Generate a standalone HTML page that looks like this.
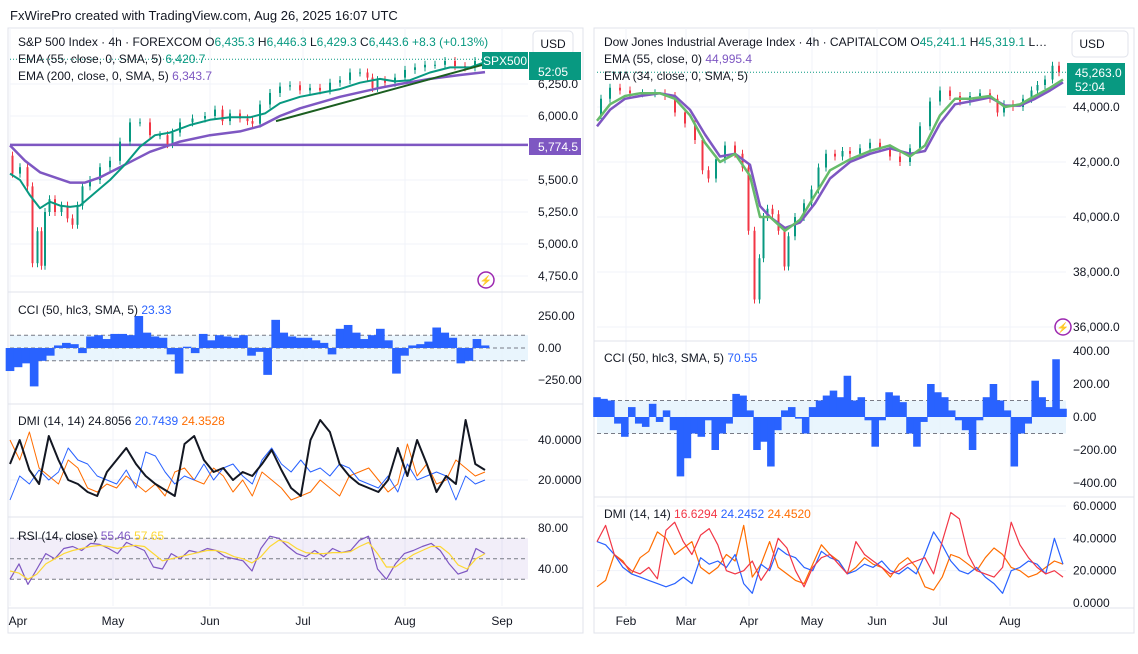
<!DOCTYPE html>
<html><head><meta charset="utf-8"><style>
body{margin:0;background:#fff;width:1138px;height:649px;overflow:hidden;font-family:"Liberation Sans",sans-serif}
svg text{font-family:"Liberation Sans",sans-serif}
</style></head><body>
<svg id="c" width="1138" height="649" viewBox="0 0 1138 649" xmlns="http://www.w3.org/2000/svg">
<text x="10" y="20" font-size="13" fill="#131722">FxWirePro created with TradingView.com, Aug 26, 2025 16:07 UTC</text>
<rect x="8" y="28" width="575" height="605" fill="none" stroke="#e0e3eb"/>
<rect x="594" y="28" width="540" height="605" fill="none" stroke="#e0e3eb"/>
<g id="g"></g>
</svg>
<script>
// ---- S&P 500 data ----
const spxX=[10,15,25,30,35,40,43,47,52,58,65,70,75,80,85,95,105,115,125,135,145,155,165,170,175,185,200,210,220,225,235,245,250,255,265,275,285,295,305,315,325,335,345,355,365,370,375,380,390,400,410,420,430,440,450,460,470,480,485];
const spxClose=[5690,5550,5600,5450,4850,5100,4830,5250,5350,5250,5300,5200,5150,5300,5450,5500,5600,5650,5800,5950,5950,5850,5850,5780,5870,5950,5980,6000,6050,5960,6020,5980,5960,5940,6090,6180,6230,6240,6200,6220,6200,6260,6280,6340,6340,6300,6220,6280,6260,6300,6360,6380,6400,6400,6430,6390,6380,6430,6443];
const spxEma55X=[10,20,30,40,50,60,70,80,95,110,125,140,155,170,190,210,230,250,265,280,300,320,340,360,380,395,410,430,450,470,485];
const spxEma55=[5550,5500,5380,5280,5330,5300,5290,5300,5400,5500,5620,5760,5850,5870,5930,5970,5990,5990,6020,6100,6150,6180,6210,6260,6290,6270,6280,6340,6380,6380,6420];
const spxEma200X=[10,25,40,55,70,85,100,120,150,180,210,240,260,280,300,340,380,400,430,460,485];
const spxEma200=[5770,5650,5560,5520,5480,5480,5520,5600,5720,5800,5850,5880,5920,6000,6060,6150,6220,6250,6290,6320,6343];
const spxTicks=[6250,6000,5500,5250,5000,4750];
const spxTickLabels=["6,250.0","6,000.0","5,500.0","5,250.0","5,000.0","4,750.0"];
const spxCci=[-180,-150,-120,-300,-100,-60,20,40,30,-40,90,100,70,110,110,100,250,120,90,80,-50,-200,10,-40,110,60,100,90,80,100,-60,-30,-210,220,120,90,80,80,60,40,-50,150,180,120,70,100,150,60,-200,-60,20,30,50,160,120,80,-120,-100,70,20];
const spxAdx=[28,40,25,18,42,30,20,18,14,12,24,30,36,28,22,18,15,12,38,42,30,24,26,20,24,22,28,35,25,16,12,40,50,44,28,22,18,16,14,20,36,22,40,28,14,22,18,50,28,25];
const spxDiPlus=[10,22,18,25,20,24,36,30,28,22,20,18,25,16,34,32,24,18,22,20,28,20,26,28,22,18,30,36,28,24,30,24,26,22,28,26,20,18,16,22,14,28,20,22,24,22,10,22,18,20];
const spxDiMinus=[40,30,44,26,22,18,30,26,16,14,18,16,22,18,14,18,12,24,26,20,18,26,22,14,20,12,24,20,16,10,12,14,20,16,12,22,24,26,20,14,18,38,22,28,18,20,30,26,22,24];
const spxRsi=[30,45,25,40,55,50,60,62,58,65,64,60,55,66,62,58,42,40,55,50,58,56,60,58,52,50,48,38,60,72,70,62,55,52,58,52,60,56,58,68,72,40,30,45,55,58,62,65,58,45,35,38,60,55];
const spxRsiMa=[38,36,30,35,45,50,55,58,60,62,63,62,60,62,63,62,55,48,50,52,54,56,58,58,56,52,50,46,52,62,68,66,60,56,55,55,56,56,57,62,66,55,42,42,48,54,58,62,62,55,44,40,50,55];
const spxMonths=["Apr","May","Jun","Jul","Aug","Sep"];
const spxMonthX=[10,113,210,303,405,502];
// ---- Dow data ----
const djX=[597,605,615,625,635,650,660,670,680,690,700,705,712,720,730,740,745,752,757,762,765,770,775,782,787,790,800,808,815,822,830,840,845,855,865,875,885,895,905,915,925,935,945,955,965,975,985,995,1000,1008,1018,1028,1035,1040,1050,1055,1063];
const djClose=[43700,44300,44700,44600,44500,44500,44500,44400,43800,43400,42800,41700,41400,42100,42600,42300,41800,39500,37000,38500,40000,40300,40100,39500,38200,39300,40000,40500,41000,41800,42300,42200,42400,42300,42500,42700,42500,42200,42000,42500,43300,44200,44600,44400,44200,44400,44500,44300,43800,44100,44000,44300,44600,44800,45000,45500,45263];
const djEmaX=[597,610,625,640,660,675,690,705,720,735,750,760,770,785,800,815,830,850,870,890,910,925,940,955,970,990,1005,1020,1035,1050,1063];
const djEma34=[43500,44100,44400,44500,44500,44300,43700,42700,42000,42300,41500,40000,40000,39500,39900,40800,41700,42100,42400,42600,42200,42600,43700,44300,44300,44400,44000,44100,44400,44700,45000];
const djEma55=[43300,43900,44300,44400,44500,44400,43900,43000,42200,42300,41900,40400,40000,39600,39800,40500,41400,42000,42300,42500,42300,42400,43400,44100,44200,44350,44050,44050,44300,44600,44900];
const djTicks=[44000,42000,40000,38000,36000];
const djTickLabels=["44,000.0","42,000.0","40,000.0","38,000.0","36,000.0"];
const djCci=[120,110,100,-40,-120,60,-40,-60,80,-30,40,-80,-360,-250,-100,-120,-20,-200,-100,-40,140,130,40,-200,-150,-300,-80,40,60,-10,-100,60,100,130,160,120,250,100,120,-20,-180,-20,150,130,90,-100,-180,-30,200,150,120,40,-20,-80,-200,-20,120,200,100,40,-300,-100,-40,220,120,60,350,50];
const djAdx=[38,48,30,25,20,18,22,15,45,50,38,30,42,46,36,20,18,20,26,14,22,40,34,20,10,22,28,30,24,18,38,30,26,22,18,20,24,26,28,18,38,56,52,30,20,18,16,22,50,36,28,22,18,20,16];
const djDiPlus=[38,36,30,22,18,16,14,12,10,12,16,12,28,24,26,22,30,12,6,24,20,34,30,28,22,20,32,28,26,18,20,24,22,26,20,18,22,18,30,44,36,26,20,18,22,16,12,6,20,22,26,24,18,40,24];
const djDiMinus=[10,14,30,26,18,28,32,44,40,30,34,38,22,18,22,30,26,48,16,24,38,22,18,14,12,24,36,30,26,18,22,28,24,22,16,24,28,22,10,8,16,30,28,24,20,28,34,30,22,20,16,18,22,26,24];
const djMonths=["Feb","Mar","Apr","May","Jun","Jul","Aug"];
const djMonthX=[626,686,749,812,877,940,1010];

const NS="http://www.w3.org/2000/svg";
const G=document.getElementById('g');
function mk(tag,attrs,parent){const e=document.createElementNS(NS,tag);for(const k in attrs)e.setAttribute(k,attrs[k]);(parent||G).appendChild(e);return e;}
function lin(d0,d1,r0,r1){return v=>r0+(v-d0)*(r1-r0)/(d1-d0);}
function idxX(n,x0,x1){return i=>x0+i*(x1-x0)/(n-1);}
function txt(x,y,s,col,size,anchor,name){const t=mk('text',{x:x,y:y,'font-size':size||12,fill:col||'#131722','text-anchor':anchor||'start'});t.textContent=s;


return t;}
function legend(x,y,parts,name){const t=mk('text',{x:x,y:y,'font-size':12,fill:'#131722','xml:space':'preserve'});


parts.forEach(p=>{const s=mk('tspan',{fill:p[1]},t);s.textContent=p[0];});return t;}
function hline(x0,x1,y,col,dash,w,name){const l=mk('line',{x1:x0,x2:x1,y1:y,y2:y,stroke:col,'stroke-width':w||1});if(dash)l.setAttribute('stroke-dasharray',dash);


return l;}
function poly(xs,vals,xf,yf,col,w,name){const p=mk('polyline',{points:vals.map((v,i)=>xf(xs?xs[i]:i).toFixed(1)+','+yf(v).toFixed(1)).join(' '),fill:'none',stroke:col,'stroke-width':w,'stroke-linejoin':'round'});


return p;}
function candles(xs,vals,yf,name){for(let i=1;i<vals.length;i++){const a=yf(vals[i-1]),b=yf(vals[i]);const up=vals[i]>=vals[i-1];const col=up?'#089981':'#f23645';const x=(xs[i-1]+xs[i])/2;
const w=mk('line',{x1:x,x2:x,y1:Math.min(a,b)-4,y2:Math.max(a,b)+4,stroke:col,'stroke-width':1});


const r=mk('rect',{x:x-1,y:Math.min(a,b),width:2,height:Math.max(1,Math.abs(a-b)),fill:col});

}}
function bars(vals,xf,yf,col,name){const bw=(xf(1)-xf(0))+0.6;vals.forEach((v,i)=>{const y0=yf(0),y1=yf(v);const r=mk('rect',{x:xf(i)-bw/2,y:Math.min(y0,y1),width:bw,height:Math.abs(y1-y0),fill:col});

});}

// ===== LEFT: S&P 500 =====
const LX0=10,LX1=528;
const ys=lin(6000,5750,116,148);
spxTicks.forEach((t,i)=>{hline(LX0,LX1,ys(t),'#f0f3fa',null,1,'spx-gridline');txt(538,ys(t)+4,spxTickLabels[i],'#131722',12,'start','spx-price-tick');});
spxMonthX.forEach(x=>{const l=mk('line',{x1:x,x2:x,y1:28,y2:606,stroke:'#f0f3fa'});});
hline(LX0,LX1,ys(5774.5),'#7e57c2',null,2.5,'support-line-5774');
candles(spxX,spxClose,ys,'spx');
poly(spxEma200X,spxEma200,x=>x,ys,'#7e57c2',2.5,'spx-ema200-line');
poly(spxEma55X,spxEma55,x=>x,ys,'#089981',2,'spx-ema55-line');
const tl=mk('line',{x1:276,y1:ys(5960),x2:485,y2:ys(6405),stroke:'#1b5e20','stroke-width':2});
hline(LX0,482,ys(6443),'#089981','1 2',1,'spx-last-price-line');
legend(18,46,[['S&P 500 Index · 4h · FOREXCOM  O','#131722'],['6,435.3','#089981'],['  H','#131722'],['6,446.3','#089981'],['  L','#131722'],['6,429.3','#089981'],['  C','#131722'],['6,443.6  +8.3 (+0.13%)','#089981']],'spx-legend-title');
legend(18,63,[['EMA (55, close, 0, SMA, 5)  ','#131722'],['6,420.7','#089981']],'spx-ema55-legend');
legend(18,80,[['EMA (200, close, 0, SMA, 5)  ','#131722'],['6,343.7','#7e57c2']],'spx-ema200-legend');
let r=mk('rect',{x:533,y:31,width:40,height:24,rx:4,fill:'#fff',stroke:'#e0e3eb'});
txt(553,48,'USD','#131722',12,'middle','spx-currency-label');
r=mk('rect',{x:482,y:52,width:46,height:17,fill:'#089981'});
txt(505,65,'SPX500','#fff',12,'middle','spx500-tag-text');
r=mk('rect',{x:529,y:52,width:52,height:28,fill:'#089981'});
txt(538,76,'52:05','#fff',12,'start','spx-countdown');
r=mk('rect',{x:529,y:138,width:52,height:17,fill:'#7e57c2'});
txt(538,151,'5,774.5','#fff',12,'start','support-price-text');
let c=mk('circle',{cx:486,cy:280,r:8,fill:'none',stroke:'#9c27b0','stroke-width':1.5});
txt(486,284,'⚡','#9c27b0',10,'middle','spx-alert-glyph');
hline(8,583,292,'#e0e3eb',null,1,'pane-divider');
// CCI left
const yc=lin(0,250,348,316);const xcL=idxX(spxCci.length,LX0,485);
r=mk('rect',{x:LX0,y:yc(100),width:LX1-LX0,height:yc(-100)-yc(100),fill:'#e3f2fd',opacity:0.8});
hline(LX0,LX1,yc(100),'#787b86','4 3',1,'spx-cci-upper');hline(LX0,LX1,yc(0),'#787b86','4 3',1,'spx-cci-mid');hline(LX0,LX1,yc(-100),'#787b86','4 3',1,'spx-cci-lower');
bars(spxCci,xcL,yc,'#2962ff','spx-cci-bar');
[[250,'250.00'],[0,'0.00'],[-250,'−250.00']].forEach(t=>txt(538,yc(t[0])+4,t[1],'#131722',12,'start','spx-cci-tick'));
legend(18,314,[['CCI (50, hlc3, SMA, 5)  ','#131722'],['23.33','#2962ff']],'spx-cci-legend');
hline(8,583,404,'#e0e3eb',null,1,'pane-divider');
// DMI left
const yd=lin(20,40,480,440);const xdL=idxX(spxAdx.length,LX0,485);
hline(LX0,LX1,yd(40),'#f0f3fa',null,1,'spx-dmi-grid');hline(LX0,LX1,yd(20),'#f0f3fa',null,1,'spx-dmi-grid');
poly(null,spxDiMinus,xdL,yd,'#ff6d00',1,'spx-di-minus');
poly(null,spxDiPlus,xdL,yd,'#2962ff',1,'spx-di-plus');
poly(null,spxAdx,xdL,yd,'#131722',2,'spx-adx');
txt(538,yd(40)+4,'40.0000','#131722',12,'start','spx-dmi-tick');txt(538,yd(20)+4,'20.0000','#131722',12,'start','spx-dmi-tick');
legend(18,425,[['DMI (14, 14)  24.8056  ','#131722'],['20.7439  ','#2962ff'],['24.3528','#ff6d00']],'spx-dmi-legend');
hline(8,583,517,'#e0e3eb',null,1,'pane-divider');
// RSI left
const yr=lin(40,80,569,528);const xrL=idxX(spxRsi.length,LX0,485);
r=mk('rect',{x:LX0,y:yr(70),width:LX1-LX0,height:yr(30)-yr(70),fill:'#7e57c2',opacity:0.1});
hline(LX0,LX1,yr(70),'#787b86','4 3',1,'spx-rsi-70');hline(LX0,LX1,yr(50),'#787b86','4 3',1,'spx-rsi-50');hline(LX0,LX1,yr(30),'#787b86','4 3',1,'spx-rsi-30');
poly(null,spxRsi,xrL,yr,'#7e57c2',1.2,'spx-rsi-line');
poly(null,spxRsiMa,xrL,yr,'#fdd835',1.2,'spx-rsi-ma');
txt(538,yr(80)+4,'80.00','#131722',12,'start','spx-rsi-tick');txt(538,yr(40)+4,'40.00','#131722',12,'start','spx-rsi-tick');
legend(18,540,[['RSI (14, close)  ','#131722'],['55.46  ','#7e57c2'],['57.65','#fdd835']],'spx-rsi-legend');
hline(8,583,608,'#e0e3eb',null,1,'time-axis-divider');
spxMonths.forEach((m,i)=>txt(spxMonthX[i]+(i==0?8:0),625,m,'#131722',12,'middle','spx-month-label'));

// ===== RIGHT: Dow Jones =====
const RX0=597,RX1=1066;
const yj=lin(44000,42000,107,162);
djTicks.forEach((t,i)=>{hline(RX0,RX1,yj(t),'#f0f3fa',null,1,'dj-gridline');txt(1073,yj(t)+4,djTickLabels[i],'#131722',12,'start','dj-price-tick');});
djMonthX.forEach(x=>{const l=mk('line',{x1:x,x2:x,y1:28,y2:606,stroke:'#f0f3fa'});});
candles(djX,djClose,yj,'dj');
poly(djEmaX,djEma55,x=>x,yj,'#7e57c2',2.5,'dj-ema55-line');
poly(djEmaX,djEma34,x=>x,yj,'#66bb6a',2.5,'dj-ema34-line');
hline(RX0,RX1,yj(45263),'#089981','1 2',1,'dj-last-price-line');
legend(604,46,[['Dow Jones Industrial Average Index · 4h · CAPITALCOM  O','#131722'],['45,241.1','#089981'],['  H','#131722'],['45,319.1','#089981'],['  L…','#131722']],'dj-legend-title');
legend(604,63,[['EMA (55, close, 0)  ','#131722'],['44,995.4','#7e57c2']],'dj-ema55-legend');
legend(604,80,[['EMA (34, close, 0, SMA, 5)','#131722']],'dj-ema34-legend');
r=mk('rect',{x:1072,y:31,width:56,height:26,rx:4,fill:'#fff',stroke:'#e0e3eb'});
txt(1092,48,'USD','#131722',12,'middle','dj-currency-label');
r=mk('rect',{x:1067,y:63,width:58,height:32,fill:'#089981'});
txt(1075,77,'45,263.0','#fff',12,'start','dj-price-text');txt(1075,91,'52:04','#fff',12,'start','dj-countdown');
c=mk('circle',{cx:1063,cy:327,r:8,fill:'none',stroke:'#9c27b0','stroke-width':1.5});
txt(1063,331,'⚡','#9c27b0',10,'middle','dj-alert-glyph');
hline(594,1134,341,'#e0e3eb',null,1,'pane-divider');
// CCI right
const ycr=lin(0,200,417,384);const xcR=idxX(djCci.length,RX0,1063);
r=mk('rect',{x:RX0,y:ycr(100),width:RX1-RX0,height:ycr(-100)-ycr(100),fill:'#e3f2fd',opacity:0.8});
hline(RX0,RX1,ycr(100),'#787b86','4 3',1,'dj-cci-upper');hline(RX0,RX1,ycr(-100),'#787b86','4 3',1,'dj-cci-lower');
bars(djCci,xcR,ycr,'#2962ff','dj-cci-bar');
[[400,'400.00'],[200,'200.00'],[0,'0.00'],[-200,'−200.00'],[-400,'−400.00']].forEach(t=>txt(1073,ycr(t[0])+4,t[1],'#131722',12,'start','dj-cci-tick'));
legend(604,362,[['CCI (50, hlc3, SMA, 5)  ','#131722'],['70.55','#2962ff']],'dj-cci-legend');
hline(594,1134,497,'#e0e3eb',null,1,'pane-divider');
// DMI right
const ydr=lin(0,60,603,506);const xdR=idxX(djAdx.length,RX0,1063);
[60,40,20].forEach(v=>hline(RX0,RX1,ydr(v),'#f0f3fa',null,1,'dj-dmi-grid'));
poly(null,djDiMinus,xdR,ydr,'#ff6d00',1.2,'dj-di-minus');
poly(null,djDiPlus,xdR,ydr,'#2962ff',1.2,'dj-di-plus');
poly(null,djAdx,xdR,ydr,'#f23645',1.2,'dj-adx');
[[60,'60.0000'],[40,'40.0000'],[20,'20.0000'],[0,'0.0000']].forEach(t=>txt(1073,ydr(t[0])+4,t[1],'#131722',12,'start','dj-dmi-tick'));
legend(604,518,[['DMI (14, 14)  ','#131722'],['16.6294  ','#f23645'],['24.2452  ','#2962ff'],['24.4520','#ff6d00']],'dj-dmi-legend');
hline(594,1134,608,'#e0e3eb',null,1,'time-axis-divider');
djMonths.forEach((m,i)=>txt(djMonthX[i],625,m,'#131722',12,'middle','dj-month-label'));
</script>
</body></html>
